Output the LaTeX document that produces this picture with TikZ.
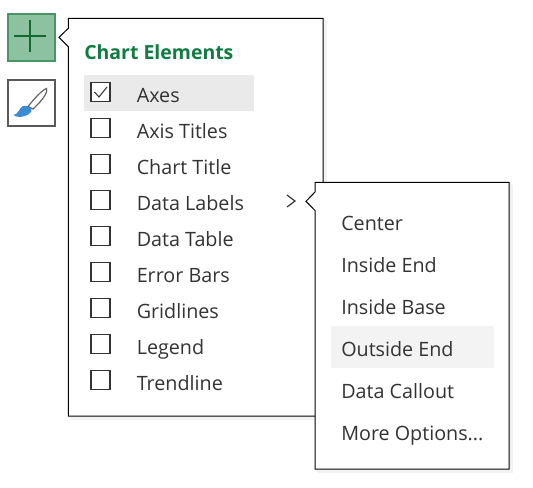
\documentclass[tikz,border=0pt]{standalone}
\usepackage{fontspec}
\setmainfont{Open Sans}
\definecolor{txt}{HTML}{333333}
\definecolor{gtitle}{HTML}{107C41}
\definecolor{gborder}{HTML}{4A9468}
\definecolor{gfill}{HTML}{8CC2A0}
\definecolor{gplus}{HTML}{146932}
\definecolor{grayb}{HTML}{595959}
\definecolor{handle}{HTML}{646464}
\definecolor{brushblue}{HTML}{3C8CD2}
\definecolor{hlA}{HTML}{EAEAEA}
\definecolor{hlB}{HTML}{F3F3F3}
\newcommand{\threedots}{...}
\tikzset{
  panel/.style={draw=black,line width=0.75pt,fill=white,line join=miter},
  item/.style={anchor=base west,inner sep=0pt,text=txt,font=\fontsize{14.8pt}{16pt}\selectfont},
  chk/.style={draw=txt,line width=1.1pt,fill=white,minimum width=14.2pt,minimum height=14.6pt,inner sep=0pt},
  shadeedge/.style={draw=black,draw opacity=0.05,line width=0.75pt}
}
\begin{document}
\begin{tikzpicture}[x=0.75pt,y=-0.75pt]
\useasboundingbox (0,0) rectangle (533,487);
\fill[white] (0,0) rectangle (533,487);
% buttons
\draw[draw=gborder,fill=gfill,line width=1.5pt] (8.3,14.3) rectangle (54.7,60.7);
\draw[line width=0.9pt,draw=gplus] (14.3,36) -- (46,36) (30,20) -- (30,52);
\draw[draw=grayb,fill=white,line width=1.5pt] (8.3,80.3) rectangle (54.7,126.3);
% brush
\draw[draw=handle,fill=white,line width=0.9pt] (28,106.5) .. controls (34,99) and (42,90) .. (46.5,88.5) .. controls (48,91) and (45,98) .. (33,109) -- cycle;
\fill[brushblue] (13.3,115) .. controls (18,115) and (19,108) .. (23,106) .. controls (28,105) and (32,108) .. (31.5,111) .. controls (29,116) and (19,119) .. (13.3,115) -- cycle;
% panel 1
\foreach \s in {1,2,3}{
  \draw[shadeedge] (68+\s,416+\s) -- (323+\s,416+\s) -- (323+\s,18+\s);
}
\draw[panel] (68.3,18.3) -- (323,18.3) -- (323,416) -- (68.3,416) -- (68.3,46.7) -- (59,37.3) -- (68.3,28.3) -- cycle;
\fill[hlA] (84,75) rectangle (254,111);
\node[anchor=base west,inner sep=0pt,text=gtitle,font=\bfseries\fontsize{14.6pt}{16pt}\selectfont] (title) at (84,59) {Chart Elements};
\foreach \n/\yy/\lab in {a/92/Axes,b/128/Axis Titles,c/164/Chart Title,d/200/Data Labels,e/236/Data Table,f/272/Error Bars,g/308/Gridlines,h/344/Legend,i/380/Trendline}{
  \node[chk] (box\n) at (100.5,\yy) {};
  \node[item] (lab\n) at (136.5,\yy+10) {\lab};
}
\draw[line width=0.8pt,draw=txt] (94.5,92) -- (99,97) -- (107,87);
\draw[line width=0.9pt,draw=txt] (287,195) -- (295,201) -- (287,207);
% panel 2
\foreach \s in {1,2,3}{
  \draw[shadeedge] (315+\s,469+\s) -- (509+\s,469+\s) -- (509+\s,182+\s);
}
\draw[panel] (315,182.3) -- (509,182.3) -- (509,469) -- (315,469) -- (315,210.5) -- (306,201.3) -- (315,192) -- cycle;
\fill[hlB] (331,326) rectangle (494,368);
\foreach \n/\yy/\lab in {p/230/Center,q/272/Inside End,r/314/Inside Base,s/356/Outside End,t/398/Data Callout,u/440/More Options\threedots}{
  \node[item] (sub\n) at (341,\yy) {\lab};
}
\end{tikzpicture}
\end{document}
